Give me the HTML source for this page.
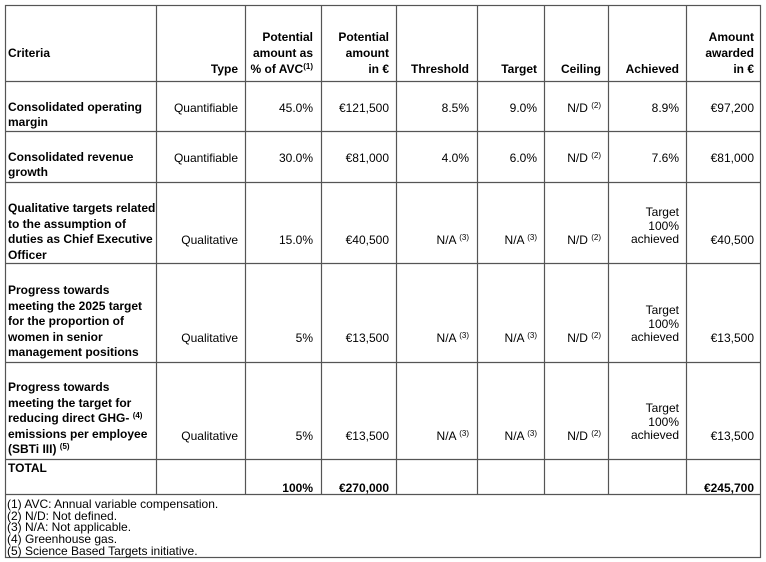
<!DOCTYPE html>
<html><head><meta charset="utf-8"><style>
html,body{margin:0;padding:0;background:#fff;}
body{width:766px;height:562px;position:relative;overflow:hidden;font-family:"Liberation Sans",Arial,sans-serif;font-size:12px;color:#000;}
.t{position:absolute;white-space:nowrap;line-height:16px;}
.r{text-align:right;}
.b{font-weight:bold;}
.s{font-size:8px;vertical-align:4px;line-height:1;}
svg{position:absolute;left:0;top:0;}
</style></head><body>
<svg width="766" height="562">
<g stroke="#555" stroke-width="1.2" fill="none">
<rect x="5.5" y="5.5" width="755" height="552"/>
<line x1="5" y1="81.5" x2="761" y2="81.5"/>
<line x1="5" y1="131.5" x2="761" y2="131.5"/>
<line x1="5" y1="182.5" x2="761" y2="182.5"/>
<line x1="5" y1="263.5" x2="761" y2="263.5"/>
<line x1="5" y1="362.5" x2="761" y2="362.5"/>
<line x1="5" y1="459.5" x2="761" y2="459.5"/>
<line x1="5" y1="494.5" x2="761" y2="494.5"/>
<line x1="156.5" y1="5" x2="156.5" y2="494"/>
<line x1="245.5" y1="5" x2="245.5" y2="494"/>
<line x1="321.5" y1="5" x2="321.5" y2="494"/>
<line x1="396.5" y1="5" x2="396.5" y2="494"/>
<line x1="477.5" y1="5" x2="477.5" y2="494"/>
<line x1="544.5" y1="5" x2="544.5" y2="494"/>
<line x1="608.5" y1="5" x2="608.5" y2="494"/>
<line x1="686.5" y1="5" x2="686.5" y2="494"/>
</g></svg>

<!-- header -->
<div class="t b" style="left:8px;top:45px;">Criteria</div>
<div class="t b r" style="left:156px;width:82px;top:61px;">Type</div>
<div class="t b r" style="left:245px;width:68px;top:29px;">Potential<br>amount as<br>% of AVC<span class="s">(1)</span></div>
<div class="t b r" style="left:321px;width:68px;top:29px;">Potential<br>amount<br>in €</div>
<div class="t b r" style="left:396px;width:73px;top:61px;">Threshold</div>
<div class="t b r" style="left:477px;width:60px;top:61px;">Target</div>
<div class="t b r" style="left:544px;width:57px;top:61px;">Ceiling</div>
<div class="t b r" style="left:608px;width:71px;top:61px;">Achieved</div>
<div class="t b r" style="left:686px;width:68px;top:29px;">Amount<br>awarded<br>in €</div>

<!-- row 1 -->
<div class="t b" style="left:8px;top:100px;line-height:15px;">Consolidated operating<br>margin</div>
<div class="t r" style="left:156px;width:82px;top:100px;">Quantifiable</div>
<div class="t r" style="left:245px;width:68px;top:100px;">45.0%</div>
<div class="t r" style="left:321px;width:68px;top:100px;">€121,500</div>
<div class="t r" style="left:396px;width:73px;top:100px;">8.5%</div>
<div class="t r" style="left:477px;width:60px;top:100px;">9.0%</div>
<div class="t r" style="left:544px;width:57px;top:100px;">N/D <span class="s">(2)</span></div>
<div class="t r" style="left:608px;width:71px;top:100px;">8.9%</div>
<div class="t r" style="left:686px;width:68px;top:100px;">€97,200</div>

<!-- row 2 -->
<div class="t b" style="left:8px;top:150px;line-height:15px;">Consolidated revenue<br>growth</div>
<div class="t r" style="left:156px;width:82px;top:150px;">Quantifiable</div>
<div class="t r" style="left:245px;width:68px;top:150px;">30.0%</div>
<div class="t r" style="left:321px;width:68px;top:150px;">€81,000</div>
<div class="t r" style="left:396px;width:73px;top:150px;">4.0%</div>
<div class="t r" style="left:477px;width:60px;top:150px;">6.0%</div>
<div class="t r" style="left:544px;width:57px;top:150px;">N/D <span class="s">(2)</span></div>
<div class="t r" style="left:608px;width:71px;top:150px;">7.6%</div>
<div class="t r" style="left:686px;width:68px;top:150px;">€81,000</div>

<!-- row 3 -->
<div class="t b" style="left:8px;top:201px;line-height:15.5px;">Qualitative targets related<br>to the assumption of<br>duties as Chief Executive<br>Officer</div>
<div class="t r" style="left:156px;width:82px;top:232px;">Qualitative</div>
<div class="t r" style="left:245px;width:68px;top:232px;">15.0%</div>
<div class="t r" style="left:321px;width:68px;top:232px;">€40,500</div>
<div class="t r" style="left:396px;width:73px;top:232px;">N/A <span class="s">(3)</span></div>
<div class="t r" style="left:477px;width:60px;top:232px;">N/A <span class="s">(3)</span></div>
<div class="t r" style="left:544px;width:57px;top:232px;">N/D <span class="s">(2)</span></div>
<div class="t r" style="left:608px;width:71px;top:206px;line-height:13.5px;">Target<br>100%<br>achieved</div>
<div class="t r" style="left:686px;width:68px;top:232px;">€40,500</div>

<!-- row 4 -->
<div class="t b" style="left:8px;top:283px;line-height:15.5px;">Progress towards<br>meeting the 2025 target<br>for the proportion of<br>women in senior<br>management positions</div>
<div class="t r" style="left:156px;width:82px;top:330px;">Qualitative</div>
<div class="t r" style="left:245px;width:68px;top:330px;">5%</div>
<div class="t r" style="left:321px;width:68px;top:330px;">€13,500</div>
<div class="t r" style="left:396px;width:73px;top:330px;">N/A <span class="s">(3)</span></div>
<div class="t r" style="left:477px;width:60px;top:330px;">N/A <span class="s">(3)</span></div>
<div class="t r" style="left:544px;width:57px;top:330px;">N/D <span class="s">(2)</span></div>
<div class="t r" style="left:608px;width:71px;top:304px;line-height:13.5px;">Target<br>100%<br>achieved</div>
<div class="t r" style="left:686px;width:68px;top:330px;">€13,500</div>

<!-- row 5 -->
<div class="t b" style="left:8px;top:380px;line-height:15.5px;">Progress towards<br>meeting the target for<br>reducing direct GHG- <span class="s">(4)</span><br>emissions per employee<br>(SBTi III) <span class="s">(5)</span></div>
<div class="t r" style="left:156px;width:82px;top:428px;">Qualitative</div>
<div class="t r" style="left:245px;width:68px;top:428px;">5%</div>
<div class="t r" style="left:321px;width:68px;top:428px;">€13,500</div>
<div class="t r" style="left:396px;width:73px;top:428px;">N/A <span class="s">(3)</span></div>
<div class="t r" style="left:477px;width:60px;top:428px;">N/A <span class="s">(3)</span></div>
<div class="t r" style="left:544px;width:57px;top:428px;">N/D <span class="s">(2)</span></div>
<div class="t r" style="left:608px;width:71px;top:402px;line-height:13.5px;">Target<br>100%<br>achieved</div>
<div class="t r" style="left:686px;width:68px;top:428px;">€13,500</div>

<!-- total -->
<div class="t b" style="left:8px;top:460px;">TOTAL</div>
<div class="t b r" style="left:245px;width:68px;top:480px;">100%</div>
<div class="t b r" style="left:321px;width:68px;top:480px;">€270,000</div>
<div class="t b r" style="left:686px;width:68px;top:480px;">€245,700</div>

<!-- footnotes -->
<div class="t" style="left:7px;top:499px;font-size:12px;line-height:11.7px;">(1) AVC: Annual variable compensation.<br>(2) N/D: Not defined.<br>(3) N/A: Not applicable.<br>(4) Greenhouse gas.<br>(5) Science Based Targets initiative.</div>
</body></html>
